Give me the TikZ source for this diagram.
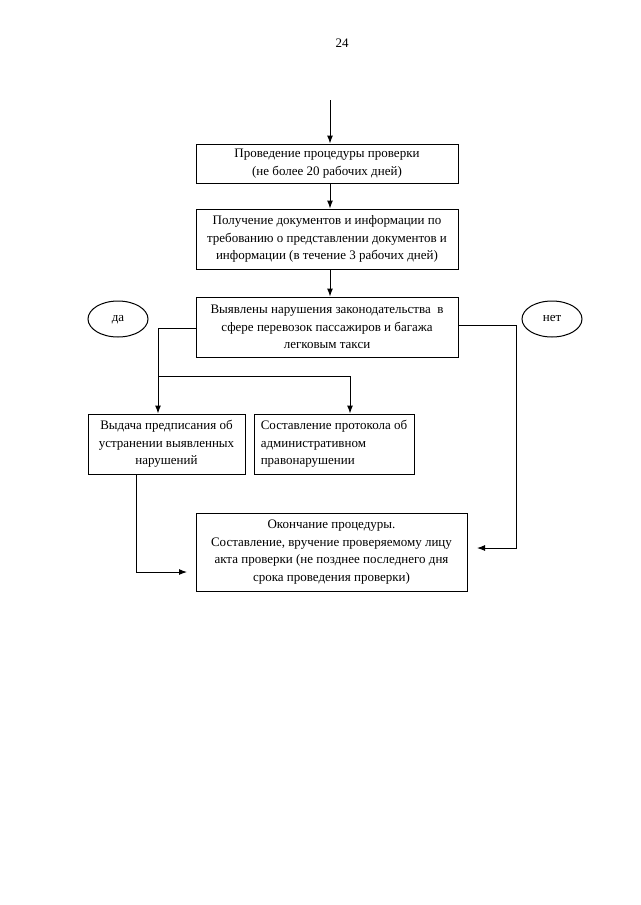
\documentclass[tikz,border=0pt]{standalone}
\usepackage{fontspec}
\setmainfont{Liberation Serif}
\usetikzlibrary{arrows.meta}
\usetikzlibrary{shapes}

\tikzset{
  stage/.style={draw, line width=1pt, inner sep=2pt, align=center,
    font=\fontsize{13}{17.5}\selectfont},
  answer/.style={draw, ellipse, line width=1pt, minimum width=60pt,
    minimum height=36pt, font=\fontsize{13}{17.5}\selectfont},
  flow/.style={line width=1pt, -{Latex[length=8pt,width=6pt]}},
  wire/.style={line width=1pt}
}

\begin{document}
\begin{tikzpicture}[x=1pt,y=-1pt]
      \useasboundingbox (0,0) rectangle (640,905);
      \node (page) at (342,43) {\fontsize{13}{17.5}\selectfont 24};
      \coordinate (start) at (330,100);
      \node[stage, minimum width=262pt, minimum height=39pt] (check) at (327,163.5)
        {Проведение процедуры проверки\\(не более 20 рабочих дней)};
      \node[stage, minimum width=262pt, minimum height=60pt] (docs) at (327,239)
        {Получение документов и информации по\\требованию о представлении документов и\\информации (в течение 3 рабочих дней)};
      \node[stage, minimum width=262pt, minimum height=60pt] (found) at (327,327)
        {Выявлены нарушения законодательства\ \ в\\сфере перевозок пассажиров и багажа\\легковым такси};
      \node[answer] (yes) at (118,319) {да\vphantom{Д}};
      \node[answer] (no) at (552,319) {нет\vphantom{Д}};
      \node[stage, minimum width=157pt, minimum height=60pt] (order) at (166.5,444)
        {Выдача предписания об\\устранении выявленных\\нарушений};
      \node[stage, minimum width=160pt, minimum height=60pt, align=left] (report) at (334,444)
        {Составление протокола об\\административном\\правонарушении};
      \node[stage, minimum width=271pt, minimum height=78pt] (finish) at (331.5,552)
        {Окончание процедуры.\\Составление, вручение проверяемому лицу\\акта проверки (не позднее последнего дня\\срока проведения проверки)};
      \coordinate (yesout) at (196,328);
      \coordinate (split) at (158,376);
      \coordinate (fork) at (350,376);
      \coordinate (orderout) at (136,474);
      \coordinate (orderin) at (187,572);
      \coordinate (noout) at (458,325);
      \coordinate (noturn) at (516,548);
      \coordinate (noin) at (477,548);
      % main column
      \draw[flow] (start) -- (start |- check.north);
      \draw[flow] (start |- check.south) -- (start |- docs.north);
      \draw[flow] (start |- docs.south) -- (start |- found.north);
      % yes branch
      \draw[wire] (yesout) -| (split);
      \draw[flow] (split) -- (split |- order.north);
      \draw[flow] (split) -- (fork) -- (fork |- report.north);
      \draw[flow] (orderout) |- (orderin);
      % no branch
      \draw[flow] (noout) -| (noturn) -- (noin);
\end{tikzpicture}
\end{document}
